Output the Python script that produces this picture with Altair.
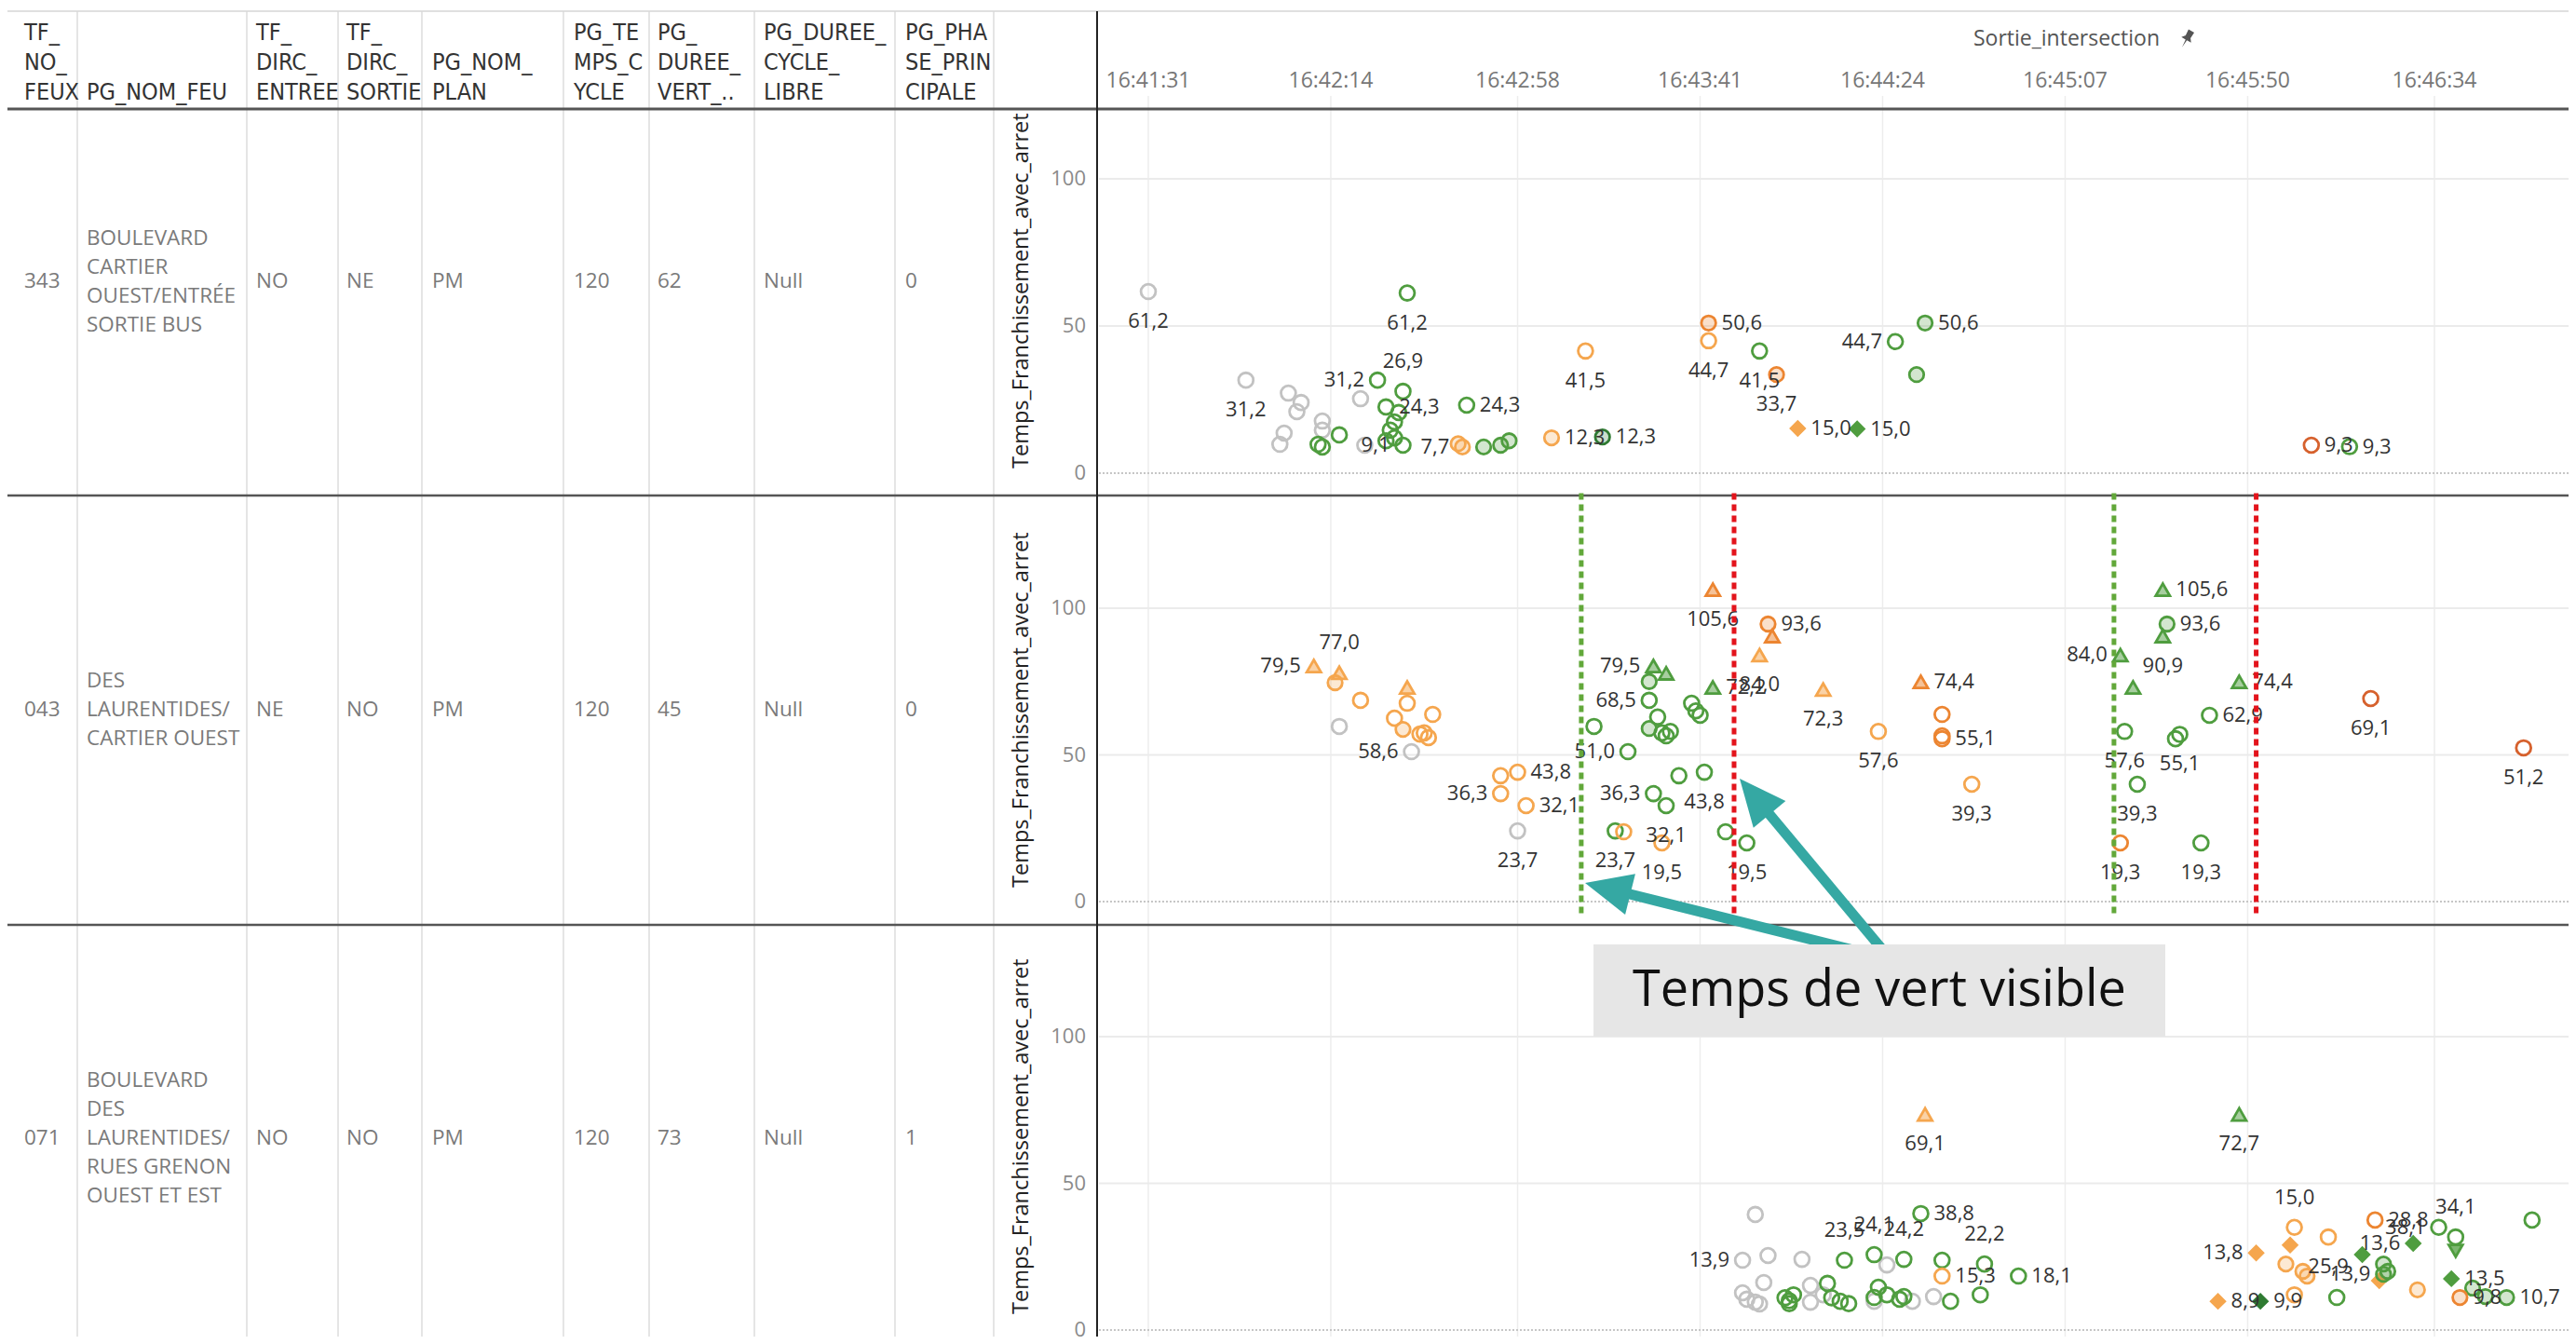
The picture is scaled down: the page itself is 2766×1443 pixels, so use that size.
import math
import altair as alt
import pandas as pd

# ====================== Données ======================
ENTETES = [
    ["TF_", "NO_", "FEUX"],
    ["PG_NOM_FEU"],
    ["TF_", "DIRC_", "ENTREE"],
    ["TF_", "DIRC_", "SORTIE"],
    ["PG_NOM_", "PLAN"],
    ["PG_TE", "MPS_C", "YCLE"],
    ["PG_", "DUREE_", "VERT_.."],
    ["PG_DUREE_", "CYCLE_", "LIBRE"],
    ["PG_PHA", "SE_PRIN", "CIPALE"],
]
TF_NO_FEUX = ["343", "043", "071"]
PG_NOM_FEU = [
    ["BOULEVARD", "CARTIER", "OUEST/ENTRÉE", "SORTIE BUS"],
    ["DES", "LAURENTIDES/", "CARTIER OUEST"],
    ["BOULEVARD", "DES", "LAURENTIDES/", "RUES GRENON", "OUEST ET EST"],
]
TF_DIRC_ENTREE = ["NO", "NE", "NO"]
TF_DIRC_SORTIE = ["NE", "NO", "NO"]
PG_NOM_PLAN = ["PM", "PM", "PM"]
PG_TEMPS_CYCLE = ["120", "120", "120"]
PG_DUREE_VERT = ["62", "45", "73"]
PG_DUREE_CYCLE_LIBRE = ["Null", "Null", "Null"]
PG_PHASE_PRINCIPALE = ["0", "0", "1"]

AXE_X_TITRE = "Sortie_intersection"
AXE_Y_TITRE = "Temps_Franchissement_avec_arret"
AXE_X_ETIQUETTES = ["16:41:31", "16:42:14", "16:42:58", "16:43:41",
                    "16:44:24", "16:45:07", "16:45:50", "16:46:34"]
AXE_Y_VALEURS = [0, 50, 100]

DEBUT_VERT = ["16:43:13", "16:45:18.5"]
DEBUT_ROUGE = ["16:43:49", "16:45:52"]
ANNOTATION = "Temps de vert visible"

SERIES = ["gris", "vert", "vert_fonce", "orange_clair", "orange", "orange_fonce"]
COULEURS = ["#c2c2c2", "#4f9d3f", "#2f7b32", "#f5a64e", "#ec8531", "#d6612d"]
FORMES = ["cercle", "cercle_plein", "triangle", "triangle_plein", "losange"]

# (heure de sortie, temps de franchissement, série, forme, étiquette, placement)
R1 = [
    ("16:41:31", 61.7, "gris", "cercle", "61,2", "b"),
    ("16:41:54", 31.6, "gris", "cercle", "31,2", "b"),
    ("16:42:04", 27.2, "gris", "cercle", "", ""),
    ("16:42:07", 24.0, "gris", "cercle", "", ""),
    ("16:42:06", 20.9, "gris", "cercle", "", ""),
    ("16:42:12", 17.7, "gris", "cercle", "", ""),
    ("16:42:12", 14.6, "gris", "cercle", "", ""),
    ("16:42:03", 13.6, "gris", "cercle", "", ""),
    ("16:42:02", 9.8, "gris", "cercle", "", ""),
    ("16:42:21", 25.3, "gris", "cercle", "", ""),
    ("16:42:22", 9.5, "gris", "cercle", "", ""),
    ("16:42:11", 9.8, "vert", "cercle", "", ""),
    ("16:42:12", 8.9, "vert", "cercle", "", ""),
    ("16:42:16", 13.0, "vert", "cercle", "", ""),
    ("16:42:25", 31.6, "vert", "cercle", "31,2", "l"),
    ("16:42:31", 27.8, "vert", "cercle", "26,9", "a"),
    ("16:42:27", 22.5, "vert", "cercle", "24,3", "r"),
    ("16:42:30", 20.6, "vert", "cercle", "", ""),
    ("16:42:29", 17.4, "vert", "cercle", "", ""),
    ("16:42:28", 14.6, "vert", "cercle", "", ""),
    ("16:42:29", 12.0, "vert", "cercle", "", ""),
    ("16:42:27", 11.0, "vert", "cercle", "", ""),
    ("16:42:31", 9.5, "vert", "cercle", "9,1", "l"),
    ("16:42:32", 61.2, "vert", "cercle", "61,2", "b"),
    ("16:42:46", 23.1, "vert", "cercle", "24,3", "r"),
    ("16:42:44", 10.0, "orange_clair", "cercle_plein", "", ""),
    ("16:42:45", 8.9, "orange_clair", "cercle_plein", "7,7", "l"),
    ("16:42:50", 8.9, "vert", "cercle_plein", "", ""),
    ("16:42:54", 9.5, "vert", "cercle_plein", "", ""),
    ("16:42:56", 11.0, "vert", "cercle_plein", "", ""),
    ("16:43:06", 12.0, "orange_clair", "cercle_plein", "12,3", "r"),
    ("16:43:18", 12.3, "vert_fonce", "cercle_plein", "12,3", "r"),
    ("16:43:14", 41.5, "orange_clair", "cercle", "41,5", "b"),
    ("16:43:43", 51.0, "orange", "cercle_plein", "50,6", "r"),
    ("16:43:43", 45.0, "orange_clair", "cercle", "44,7", "b"),
    ("16:43:55", 41.5, "vert", "cercle", "41,5", "b"),
    ("16:43:59", 33.5, "orange", "cercle_plein", "33,7", "b"),
    ("16:44:04", 15.2, "orange_clair", "losange", "15,0", "r"),
    ("16:44:18", 15.0, "vert", "losange", "15,0", "r"),
    ("16:44:27", 44.7, "vert", "cercle", "44,7", "l"),
    ("16:44:34", 51.0, "vert", "cercle_plein", "50,6", "r"),
    ("16:44:32", 33.5, "vert", "cercle_plein", "", ""),
    ("16:46:05", 9.5, "orange_fonce", "cercle", "9,3", "r"),
    ("16:46:14", 9.0, "vert", "cercle", "9,3", "r"),
]

R2 = [
    ("16:42:10", 80.3, "orange_clair", "triangle", "79,5", "l"),
    ("16:42:16", 78.0, "orange_clair", "triangle", "77,0", "a"),
    ("16:42:15", 74.6, "orange_clair", "cercle_plein", "", ""),
    ("16:42:21", 68.6, "orange_clair", "cercle", "", ""),
    ("16:42:16", 59.7, "gris", "cercle", "", ""),
    ("16:42:32", 73.0, "orange_clair", "triangle", "", ""),
    ("16:42:32", 67.6, "orange_clair", "cercle", "", ""),
    ("16:42:29", 62.5, "orange_clair", "cercle", "", ""),
    ("16:42:31", 58.7, "orange_clair", "cercle_plein", "", ""),
    ("16:42:38", 63.8, "orange_clair", "cercle", "", ""),
    ("16:42:35", 57.1, "orange_clair", "cercle", "", ""),
    ("16:42:37", 55.9, "orange_clair", "cercle", "", ""),
    ("16:42:36", 57.5, "orange_clair", "cercle", "", ""),
    ("16:42:33", 51.1, "gris", "cercle", "58,6", "l"),
    ("16:42:54", 42.9, "orange_clair", "cercle", "", ""),
    ("16:42:58", 44.1, "orange_clair", "cercle", "43,8", "r"),
    ("16:42:54", 36.8, "orange_clair", "cercle", "36,3", "l"),
    ("16:43:00", 32.7, "orange_clair", "cercle", "32,1", "r"),
    ("16:42:58", 24.1, "gris", "cercle", "23,7", "b"),
    ("16:43:16", 59.7, "vert", "cercle", "", ""),
    ("16:43:24", 51.1, "vert", "cercle", "51,0", "l"),
    ("16:43:30", 80.3, "vert", "triangle", "79,5", "l"),
    ("16:43:33", 77.8, "vert", "triangle", "", ""),
    ("16:43:29", 75.0, "vert", "cercle_plein", "", ""),
    ("16:43:29", 68.6, "vert", "cercle", "68,5", "l"),
    ("16:43:31", 62.9, "vert", "cercle", "", ""),
    ("16:43:29", 59.0, "vert", "cercle_plein", "", ""),
    ("16:43:32", 57.5, "vert", "cercle", "", ""),
    ("16:43:33", 56.5, "vert", "cercle", "", ""),
    ("16:43:34", 58.0, "vert", "cercle", "", ""),
    ("16:43:39", 67.6, "vert", "cercle", "", ""),
    ("16:43:40", 65.0, "vert", "cercle", "", ""),
    ("16:43:41", 63.5, "vert", "cercle", "", ""),
    ("16:43:44", 73.0, "vert", "triangle", "72,2", "r"),
    ("16:43:36", 42.9, "vert", "cercle", "", ""),
    ("16:43:42", 44.1, "vert", "cercle", "43,8", "b"),
    ("16:43:30", 36.8, "vert", "cercle", "36,3", "l"),
    ("16:43:33", 32.7, "vert", "cercle", "32,1", "b"),
    ("16:43:21", 24.1, "vert", "cercle", "23,7", "b"),
    ("16:43:23", 23.8, "orange_clair", "cercle", "", ""),
    ("16:43:32", 20.0, "orange_clair", "cercle", "19,5", "b"),
    ("16:43:47", 23.8, "vert", "cercle", "", ""),
    ("16:43:52", 20.0, "vert", "cercle", "19,5", "b"),
    ("16:43:44", 106.3, "orange", "triangle", "105,6", "b"),
    ("16:43:57", 94.6, "orange", "cercle_plein", "93,6", "r"),
    ("16:43:58", 90.5, "orange", "triangle", "", ""),
    ("16:43:55", 84.0, "orange_clair", "triangle", "84,0", "b"),
    ("16:44:10", 72.3, "orange_clair", "triangle", "72,3", "b"),
    ("16:44:33", 74.9, "orange", "triangle", "74,4", "r"),
    ("16:44:23", 58.0, "orange_clair", "cercle", "57,6", "b"),
    ("16:44:38", 63.8, "orange", "cercle", "", ""),
    ("16:44:38", 56.5, "orange", "cercle", "", ""),
    ("16:44:38", 55.5, "orange", "cercle", "55,1", "r"),
    ("16:44:45", 40.0, "orange_clair", "cercle", "39,3", "b"),
    ("16:45:20", 84.0, "vert", "triangle", "84,0", "l"),
    ("16:45:30", 106.3, "vert", "triangle", "105,6", "r"),
    ("16:45:31", 94.6, "vert", "cercle_plein", "93,6", "r"),
    ("16:45:30", 90.5, "vert", "triangle", "90,9", "b"),
    ("16:45:23", 73.0, "vert", "triangle", "", ""),
    ("16:45:48", 74.9, "vert", "triangle", "74,4", "r"),
    ("16:45:41", 63.5, "vert", "cercle", "62,9", "r"),
    ("16:45:21", 58.0, "vert", "cercle", "57,6", "b"),
    ("16:45:33", 55.5, "vert", "cercle", "", ""),
    ("16:45:34", 57.0, "vert", "cercle", "55,1", "b"),
    ("16:45:24", 40.0, "vert", "cercle", "39,3", "b"),
    ("16:45:20", 20.0, "orange", "cercle", "19,3", "b"),
    ("16:45:39", 20.0, "vert", "cercle", "19,3", "b"),
    ("16:46:19", 69.2, "orange_fonce", "cercle", "69,1", "b"),
    ("16:46:55", 52.4, "orange_fonce", "cercle", "51,2", "b"),
]

R3 = [
    ("16:43:54", 39.4, "gris", "cercle", "", ""),
    ("16:43:51", 23.8, "gris", "cercle", "13,9", "l"),
    ("16:43:57", 25.4, "gris", "cercle", "", ""),
    ("16:44:05", 24.1, "gris", "cercle", "", ""),
    ("16:43:56", 16.2, "gris", "cercle", "", ""),
    ("16:43:51", 12.7, "gris", "cercle", "", ""),
    ("16:43:52", 10.5, "gris", "cercle", "", ""),
    ("16:43:54", 9.5, "gris", "cercle", "", ""),
    ("16:43:55", 8.9, "gris", "cercle", "", ""),
    ("16:44:07", 15.2, "gris", "cercle", "", ""),
    ("16:44:07", 9.5, "gris", "cercle", "", ""),
    ("16:44:25", 22.2, "gris", "cercle", "", ""),
    ("16:44:31", 9.8, "gris", "cercle", "", ""),
    ("16:44:36", 11.4, "gris", "cercle", "", ""),
    ("16:44:22", 9.8, "gris", "cercle", "", ""),
    ("16:44:10", 12.0, "gris", "cercle", "", ""),
    ("16:44:33", 39.7, "vert", "cercle", "38,8", "r"),
    ("16:44:15", 23.8, "vert", "cercle", "23,5", "a"),
    ("16:44:22", 25.7, "vert", "cercle", "24,1", "a"),
    ("16:44:29", 24.1, "vert", "cercle", "24,2", "a"),
    ("16:44:38", 23.8, "vert", "cercle", "", ""),
    ("16:44:48", 22.5, "vert", "cercle", "22,2", "a"),
    ("16:44:56", 18.4, "vert", "cercle", "18,1", "r"),
    ("16:44:47", 12.0, "vert", "cercle", "", ""),
    ("16:44:40", 9.8, "vert", "cercle", "", ""),
    ("16:44:02", 10.0, "vert", "cercle", "", ""),
    ("16:44:02", 9.0, "vert", "cercle", "", ""),
    ("16:44:01", 11.0, "vert", "cercle", "", ""),
    ("16:44:03", 12.0, "vert", "cercle", "", ""),
    ("16:44:11", 15.9, "vert", "cercle", "", ""),
    ("16:44:12", 11.0, "vert", "cercle", "", ""),
    ("16:44:14", 9.8, "vert", "cercle", "", ""),
    ("16:44:16", 9.0, "vert", "cercle", "", ""),
    ("16:44:22", 11.1, "vert", "cercle", "", ""),
    ("16:44:23", 14.6, "vert", "cercle", "", ""),
    ("16:44:25", 12.0, "vert", "cercle", "", ""),
    ("16:44:28", 10.5, "vert", "cercle", "", ""),
    ("16:44:29", 11.4, "vert", "cercle", "", ""),
    ("16:44:38", 18.4, "orange_clair", "cercle", "15,3", "r"),
    ("16:44:34", 73.5, "orange_clair", "triangle", "69,1", "b"),
    ("16:45:48", 73.5, "vert", "triangle", "72,7", "b"),
    ("16:45:52", 26.3, "orange_clair", "losange", "13,8", "l"),
    ("16:45:43", 9.8, "orange_clair", "losange", "8,9", "r"),
    ("16:45:53", 9.8, "vert_fonce", "losange", "9,9", "r"),
    ("16:46:01", 12.0, "orange_clair", "cercle", "", ""),
    ("16:46:01", 35.0, "orange_clair", "cercle", "15,0", "a"),
    ("16:46:00", 29.0, "orange_clair", "losange", "", ""),
    ("16:45:59", 22.5, "orange_clair", "cercle_plein", "", ""),
    ("16:46:03", 20.0, "orange_clair", "cercle_plein", "", ""),
    ("16:46:04", 18.4, "orange_clair", "cercle_plein", "", ""),
    ("16:46:09", 31.7, "orange_clair", "cercle", "25,9", "b"),
    ("16:46:11", 11.1, "vert", "cercle", "", ""),
    ("16:46:17", 25.7, "vert", "losange", "", ""),
    ("16:46:21", 16.8, "orange_clair", "losange", "", ""),
    ("16:46:22", 22.5, "vert", "cercle_plein", "", ""),
    ("16:46:23", 20.0, "vert", "cercle_plein", "", ""),
    ("16:46:22", 19.0, "vert", "cercle_plein", "13,9", "l"),
    ("16:46:20", 37.5, "orange", "cercle", "28,8", "r"),
    ("16:46:29", 29.5, "vert", "losange", "13,6", "l"),
    ("16:46:30", 13.7, "orange_clair", "cercle_plein", "", ""),
    ("16:46:35", 35.0, "vert", "cercle", "38,1", "l"),
    ("16:46:39", 31.7, "vert", "cercle", "34,1", "a"),
    ("16:46:39", 27.0, "vert", "triangle_plein", "", ""),
    ("16:46:38", 17.5, "vert", "losange", "13,5", "r"),
    ("16:46:43", 14.3, "vert", "cercle_plein", "", ""),
    ("16:46:40", 11.1, "orange", "cercle_plein", "9,8", "r"),
    ("16:46:46", 11.4, "vert", "cercle_plein", "", ""),
    ("16:46:51", 11.1, "vert", "cercle_plein", "10,7", "r"),
    ("16:46:57", 37.5, "vert", "cercle", "", ""),
]

# ====================== Mise en page ======================
W, H = 2750, 1427
M = 8


def P(v):
    return v - M


FONT = "Open Sans"
FONT_ETROITE = "Liberation Sans Narrow, Arial Narrow, DejaVu Sans Condensed, Liberation Sans"
COL_BORDS = [83, 265, 363, 453, 605, 697, 810, 961, 1067]
COL_TEXTE_X = [26, 93, 275, 372, 464, 616, 706, 820, 972]
ENTETE_BAS, INTERLIGNE_ENTETE = 99, 32
RANGEE_CENTRE, INTERLIGNE = [302, 762, 1222], 31
Y0 = [508, 968, 1428]
Y100 = [192, 653, 1113]
TITRE_Y_BAS = [503, 953, 1411]
PLOT_G = 1178

SYMBOLES = ["circle", "circle", "triangle-up", "triangle-down", "diamond"]
REMPLI = [0, 1, 0, 1, 1]
TAILLES = [250, 210, 270, 220, 200]


def sec(h):
    hh, mm, ss = h.split(":")
    return int(hh) * 3600 + int(mm) * 60 + float(ss) - (16 * 3600 + 41 * 60)


X_SC = alt.Scale(domain=[sec(AXE_X_ETIQUETTES[0]), sec(AXE_X_ETIQUETTES[-1])],
                 range=[P(1233), P(2614)], nice=False, zero=False)
IDX = alt.Scale(domain=[0, W], range=[0, W], nice=False, zero=False)
IDY = alt.Scale(domain=[0, H], range=[0, H], nice=False, zero=False)


def ysc(i):
    return alt.Scale(domain=[0, 100], range=[P(Y0[i]), P(Y100[i])], nice=False, zero=False)


def one():
    return pd.DataFrame({"k": [0]})


layers = []


def hrule(y, color, w, x0=0, x1=W):
    return alt.Chart(one()).mark_rule(color=color, strokeWidth=w).encode(
        x=alt.value(x0), x2=alt.value(x1), y=alt.value(P(y)))


def vrule(x, color, w, y0=12, y1=H + M):
    return alt.Chart(one()).mark_rule(color=color, strokeWidth=w).encode(
        x=alt.value(P(x)), y=alt.value(P(y0)), y2=alt.value(P(y1)))


# vertical grid (time ticks)
df_ticks = pd.DataFrame({"lab": AXE_X_ETIQUETTES, "t": [sec(h) for h in AXE_X_ETIQUETTES]})
layers.append(alt.Chart(df_ticks).mark_rule(color="#ededed", strokeWidth=1.5).encode(
    x=alt.X("t:Q", scale=X_SC, axis=None), y=alt.value(P(103)), y2=alt.value(H)))

# table lines
for b in COL_BORDS:
    layers.append(vrule(b, "#dcdcdc", 1.5))
layers.append(hrule(12, "#d6d6d6", 1.5))
layers.append(hrule(117, "#555555", 3))
layers.append(hrule(532, "#555555", 2.5))
layers.append(hrule(993, "#555555", 2.5))
layers.append(vrule(PLOT_G, "#222222", 2))

# header text
rows = []
for c, lignes in enumerate(ENTETES):
    n = len(lignes)
    for k, txt in enumerate(lignes):
        rows.append(dict(xpx=P(COL_TEXTE_X[c]), ypx=P(ENTETE_BAS - (n - 1 - k) * INTERLIGNE_ENTETE), txt=txt))
layers.append(alt.Chart(pd.DataFrame(rows)).mark_text(
    align="left", baseline="middle", font=FONT_ETROITE, fontSize=25, color="#333333").encode(
    x=alt.X("xpx:Q", scale=IDX, axis=None), y=alt.Y("ypx:Q", scale=IDY, axis=None), text="txt:N"))

# row cells
colonnes = [TF_NO_FEUX, PG_NOM_FEU, TF_DIRC_ENTREE, TF_DIRC_SORTIE, PG_NOM_PLAN,
            PG_TEMPS_CYCLE, PG_DUREE_VERT, PG_DUREE_CYCLE_LIBRE, PG_PHASE_PRINCIPALE]
rows = []
for c, col in enumerate(colonnes):
    for r, val in enumerate(col):
        lignes = val if isinstance(val, list) else [val]
        n = len(lignes)
        for k, txt in enumerate(lignes):
            rows.append(dict(xpx=P(COL_TEXTE_X[c]),
                             ypx=P(RANGEE_CENTRE[r] + (k - (n - 1) / 2) * INTERLIGNE), txt=txt))
layers.append(alt.Chart(pd.DataFrame(rows)).mark_text(
    align="left", baseline="middle", font=FONT, fontSize=22.5, color="#7a7a7a").encode(
    x=alt.X("xpx:Q", scale=IDX, axis=None), y=alt.Y("ypx:Q", scale=IDY, axis=None), text="txt:N"))

# x axis labels & title
layers.append(alt.Chart(df_ticks).mark_text(
    align="center", baseline="middle", font=FONT, fontSize=23, color="#777777").encode(
    x=alt.X("t:Q", scale=X_SC, axis=None), y=alt.value(P(87)), text="lab:N"))
layers.append(alt.Chart(pd.DataFrame({"txt": [AXE_X_TITRE]})).mark_text(
    align="center", baseline="middle", font=FONT, fontSize=23, color="#555555").encode(
    x=alt.value(P(2219)), y=alt.value(P(42)), text="txt:N"))
layers.append(alt.Chart(one()).mark_point(
    shape="M-0.35,-1L0.35,-1L0.3,-0.3L0.6,0.1L0.08,0.1L0,1L-0.08,0.1L-0.6,0.1L-0.3,-0.3Z",
    size=400, angle=30, filled=True, color="#555555", opacity=1).encode(
    x=alt.value(P(2348)), y=alt.value(P(42))))

PLACEMENTS = {
    "b": dict(dy=32, align="center"),
    "a": dict(dy=-32, align="center"),
    "r": dict(dx=14, align="left"),
    "l": dict(dx=-14, align="right"),
}

phase = pd.DataFrame({
    "t": [sec(h) for h in DEBUT_VERT] + [sec(h) for h in DEBUT_ROUGE],
    "phase": ["vert"] * len(DEBUT_VERT) + ["rouge"] * len(DEBUT_ROUGE),
    "v0": -4, "v1": 140,
})

for i, data in enumerate([R1, R2, R3]):
    ys = ysc(i)
    df = pd.DataFrame(data, columns=["heure", "v", "serie", "forme", "etiquette", "place"])
    df["t"] = df["heure"].map(sec)
    grid = pd.DataFrame({"v": AXE_Y_VALEURS})
    layers.append(alt.Chart(grid[grid.v > 0]).mark_rule(color="#ebebeb", strokeWidth=2).encode(
        y=alt.Y("v:Q", scale=ys, axis=None), x=alt.value(P(PLOT_G + 2)), x2=alt.value(W)))
    layers.append(alt.Chart(grid[grid.v == 0]).mark_rule(color="#c6c6c6", strokeWidth=2, strokeDash=[2, 2]).encode(
        y=alt.Y("v:Q", scale=ys, axis=None), x=alt.value(P(PLOT_G + 2)), x2=alt.value(W)))
    layers.append(alt.Chart(grid).mark_text(
        align="right", baseline="middle", font=FONT, fontSize=22, color="#8a8a8a").encode(
        y=alt.Y("v:Q", scale=ys, axis=None), x=alt.value(P(1166)), text="v:N"))
    layers.append(alt.Chart(pd.DataFrame({"txt": [AXE_Y_TITRE]})).mark_text(
        align="left", baseline="middle", angle=270, font=FONT, fontSize=23.5, color="#222222").encode(
        x=alt.value(P(1097)), y=alt.value(P(TITRE_Y_BAS[i])), text="txt:N"))
    layers.append(alt.Chart(df).mark_point(opacity=1, strokeWidth=2.8).encode(
        x=alt.X("t:Q", scale=X_SC, axis=None),
        y=alt.Y("v:Q", scale=ys, axis=None),
        shape=alt.Shape("forme:N", scale=alt.Scale(domain=FORMES, range=SYMBOLES), legend=None),
        stroke=alt.Stroke("serie:N", scale=alt.Scale(domain=SERIES, range=COULEURS), legend=None),
        fill=alt.Fill("serie:N", scale=alt.Scale(domain=SERIES, range=COULEURS), legend=None),
        fillOpacity=alt.FillOpacity("forme:O", scale=alt.Scale(domain=FORMES, range=REMPLI), legend=None),
        size=alt.Size("forme:O", scale=alt.Scale(domain=FORMES, range=TAILLES), legend=None),
    ))
    for code, kw in PLACEMENTS.items():
        sub = df[df.place == code]
        if len(sub):
            layers.append(alt.Chart(sub).mark_text(
                baseline="middle", font=FONT, fontSize=22, color="#333333", **kw).encode(
                x=alt.X("t:Q", scale=X_SC, axis=None), y=alt.Y("v:Q", scale=ys, axis=None),
                text="etiquette:N"))
    if i == 1:
        layers.append(alt.Chart(phase).mark_rule(strokeWidth=5, strokeDash=[7, 5]).encode(
            x=alt.X("t:Q", scale=X_SC, axis=None),
            y=alt.Y("v0:Q", scale=ys, axis=None), y2="v1:Q",
            color=alt.Color("phase:N", scale=alt.Scale(domain=["vert", "rouge"], range=["#62a83a", "#e3141c"]),
                            legend=None)))

# annotation: arrows + box
TEAL = "#35a8a3"
QUEUE = (2030, 1030)
POINTES = [(1702, 948), (1868, 836)]
for (tx, ty) in POINTES:
    dx, dy = tx - QUEUE[0], ty - QUEUE[1]
    L = math.hypot(dx, dy)
    ux, uy = dx / L, dy / L
    ang = math.degrees(math.atan2(ux, -uy)) % 360
    ex, ey = tx - 30 * ux, ty - 30 * uy
    layers.append(alt.Chart(one()).mark_rule(color=TEAL, strokeWidth=11).encode(
        x=alt.value(P(QUEUE[0])), y=alt.value(P(QUEUE[1])), x2=alt.value(P(ex)), y2=alt.value(P(ey))))
    layers.append(alt.Chart(one()).mark_point(
        shape="M0,0L0.9,2L-0.9,2Z", size=2500, angle=ang, filled=True, color=TEAL, opacity=1).encode(
        x=alt.value(P(tx)), y=alt.value(P(ty))))

layers.append(alt.Chart(one()).mark_rect(color="#e6e6e6").encode(
    x=alt.value(P(1711)), x2=alt.value(P(2325)), y=alt.value(P(1014)), y2=alt.value(P(1113))))
layers.append(alt.Chart(pd.DataFrame({"txt": [ANNOTATION]})).mark_text(
    align="center", baseline="middle", font=FONT, fontSize=54, color="#111111").encode(
    x=alt.value(P(2018)), y=alt.value(P(1064)), text="txt:N"))

chart = alt.layer(*layers).resolve_scale(x="independent", y="independent").properties(
    width=W, height=H, padding=0, background="white",
    autosize=alt.AutoSizeParams(type="none"),
).configure_view(stroke=None)

chart.save("out.html", embed_options={"renderer": "svg", "actions": False})
